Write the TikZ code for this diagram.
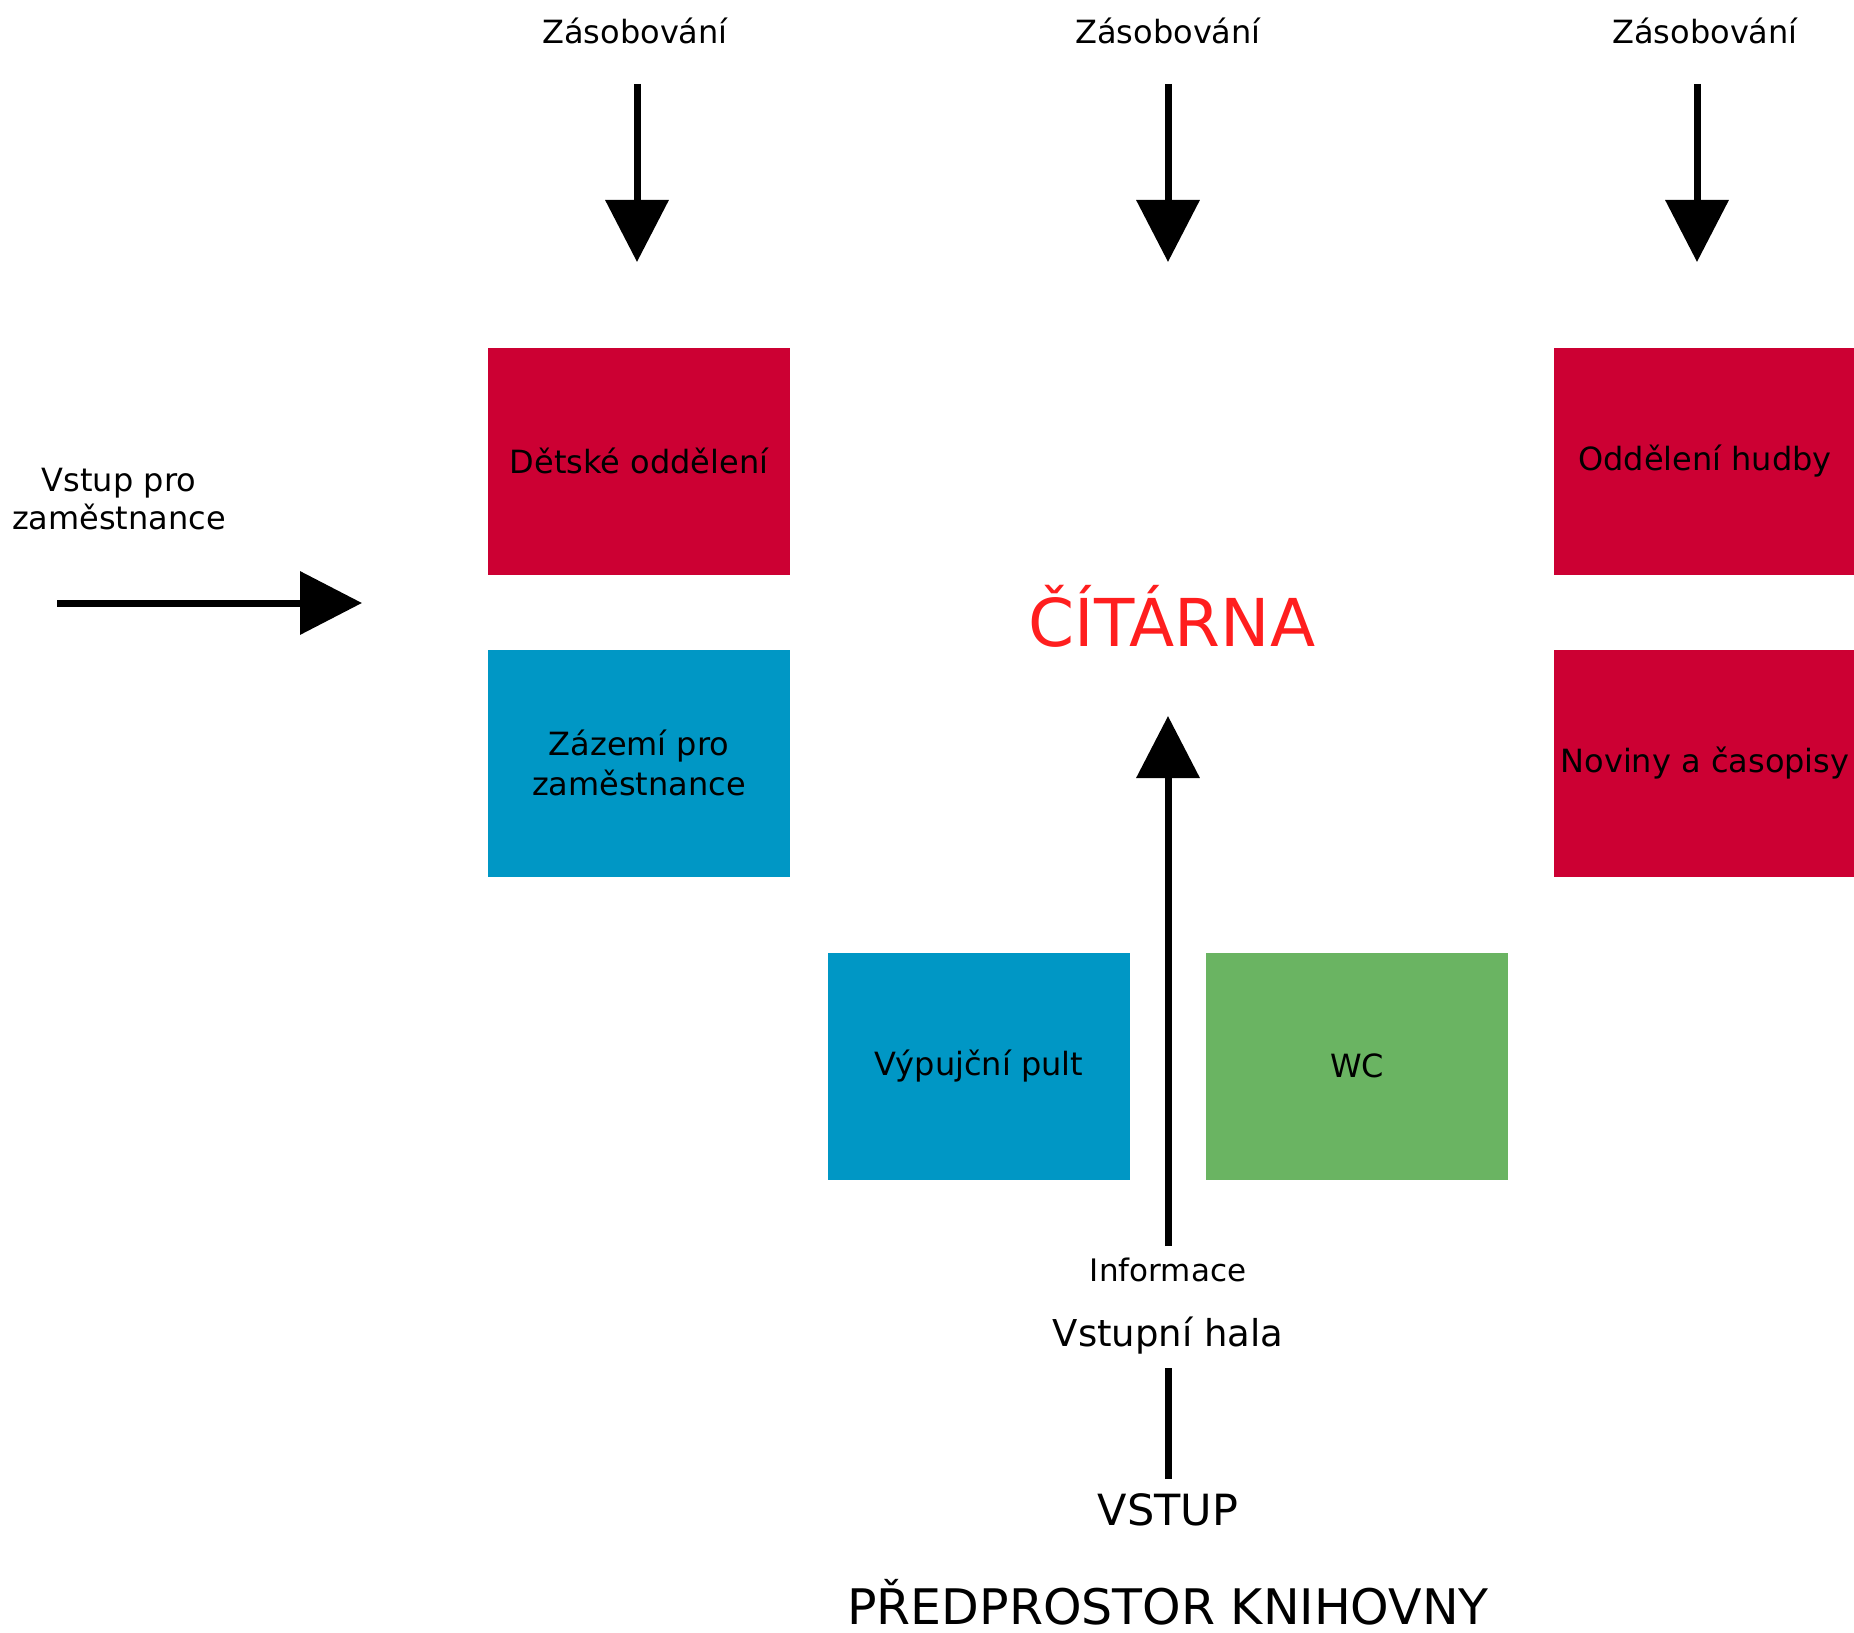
\documentclass[tikz,border=0pt]{standalone}
\usepackage{fontspec}
\setmainfont{DejaVu Sans}
\usetikzlibrary{arrows.meta}
\definecolor{roomred}{RGB}{204,0,51}
\definecolor{roomblue}{RGB}{0,151,197}
\definecolor{roomgreen}{RGB}{106,180,98}
\definecolor{hallred}{RGB}{255,30,30}
\begin{document}
\begin{tikzpicture}[x=1pt,y=-1pt]
    \tikzset{
        room/.style={minimum width=302, minimum height=227, inner sep=0, align=center, font=\fontsize{32}{40}\selectfont},
        label/.style={inner sep=0, align=center, font=\fontsize{32}{38}\selectfont},
        title/.style={inner sep=0, font=\fontsize{49}{54}\selectfont},
        arc/.style={line width=7, -{Triangle[length=62, width=62]}},
        link/.style={line width=7}
    }
    \useasboundingbox (0,0) rectangle (1854,1632);

    % rooms
    \draw node[room, fill=roomred] (detske) at (639,461) {Dětské oddělení};
    \draw node[room, fill=roomblue] (zazemi) at (639,763) {Zázemí pro\\zaměstnance};
    \draw node[room, fill=roomred] (hudba) at (1705,461) {Oddělení hudby};
    \draw node[room, fill=roomred] (noviny) at (1705,763) {Noviny a časopisy};
    \draw node[room, fill=roomblue] (pult) at (979,1066) {Výpujční pult};
    \draw node[room, fill=roomgreen] (wc) at (1357,1066) {WC};

    % labels
    \draw node[label] (zas1) at (635,31) {Zásobování};
    \draw node[label] (zas2) at (1168,31) {Zásobování};
    \draw node[label] (zas3) at (1705,31) {Zásobování};
    \draw node[label] (vstupzam) at (119,499) {Vstup pro\\zaměstnance};
    \draw node[title, anchor=base, font=\fontsize{66}{70}\selectfont, text=hallred] (citarna) at (1172,646) {ČÍTÁRNA};
    \draw node[label, font=\fontsize{31}{36}\selectfont] (info) at (1168,1270) {Informace};
    \draw node[label, font=\fontsize{37}{42}\selectfont] (hala) at (1168,1336) {Vstupní hala};
    \draw node[label, font=\fontsize{43}{48}\selectfont] (vstup) at (1168,1510) {VSTUP};
    \draw node[title, anchor=base] (predprostor) at (1168,1624) {PŘEDPROSTOR KNIHOVNY};

    % arrow ends
    \coordinate (z1) at (637,84);   \coordinate (z1e) at (637,262);
    \coordinate (z2) at (1168,84);  \coordinate (z2e) at (1168,262);
    \coordinate (z3) at (1697,84);  \coordinate (z3e) at (1697,262);
    \coordinate (zam) at (57,603);  \coordinate (zame) at (362,603);
    \coordinate (hal) at (1168,1246); \coordinate (cit) at (1168,716);
    \coordinate (vst) at (1168,1479); \coordinate (hab) at (1168,1368);

    \draw[arc] (z1) -- (z1e);
    \draw[arc] (z2) -- (z2e);
    \draw[arc] (z3) -- (z3e);
    \draw[arc] (zam) -- (zame);
    \draw[arc] (hal) -- (cit);
    \draw[link] (vst) -- (hab);
\end{tikzpicture}
\end{document}
